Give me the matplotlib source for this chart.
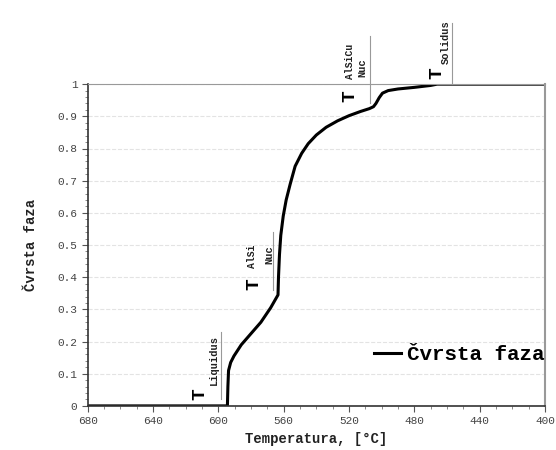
import matplotlib
matplotlib.use('Agg')
import matplotlib.pyplot as plt
from matplotlib.ticker import MultipleLocator

# krivulja očvršćavanja (očitano sa slike)
temp = [680, 594.5, 594.2, 593.8, 592.5, 590.5, 586, 580, 574, 568, 563.5,
        563.2, 562.6, 561.8, 560.3, 558.5, 556, 553, 549, 545, 540, 534,
        527, 520, 513, 507.5, 505, 503.5, 501.5, 499.5, 496, 490, 480,
        470, 466, 400]
frac = [0, 0, 0.06, 0.11, 0.135, 0.155, 0.19, 0.225, 0.26, 0.305, 0.345,
        0.40, 0.47, 0.53, 0.59, 0.64, 0.69, 0.745, 0.785, 0.815, 0.842, 0.866,
        0.886, 0.902, 0.915, 0.924, 0.93, 0.94, 0.958, 0.972, 0.98, 0.985, 0.99,
        0.996, 1.0, 1.0]

xticks = [680, 640, 600, 560, 520, 480, 440, 400]
yticks = [0, 0.1, 0.2, 0.3, 0.4, 0.5, 0.6, 0.7, 0.8, 0.9, 1]
ylabels = ['0', '0.1', '0.2', '0.3', '0.4', '0.5', '0.6', '0.7', '0.8', '0.9', '1']

mono = 'Liberation Mono'

fig = plt.figure(figsize=(5.56, 4.5), dpi=100)
ax = fig.add_axes([0.158, 0.098, 0.822, 0.715])

ax.plot(temp, frac, color='black', lw=2.2, label='Čvrsta faza')

ax.set_xlim(680, 400)
ax.set_ylim(0, 1)
ax.set_xticks(xticks)
ax.set_yticks(yticks)
ax.set_yticklabels(ylabels)
ax.xaxis.set_minor_locator(MultipleLocator(10))
ax.yaxis.set_minor_locator(MultipleLocator(0.02))
ax.tick_params(which='major', length=4, color='#555555', labelsize=8,
               labelcolor='#444444')
ax.tick_params(which='minor', length=2, color='#777777')
for lab in ax.get_xticklabels() + ax.get_yticklabels():
    lab.set_family(mono)

ax.grid(axis='y', color='#e3e3e3', lw=0.8, ls='--')
ax.set_axisbelow(True)

ax.spines['left'].set_color('#333333')
ax.spines['bottom'].set_color('#333333')
ax.spines['left'].set_linewidth(1.2)
ax.spines['bottom'].set_linewidth(1.2)
ax.spines['right'].set_color('#999999')
ax.spines['top'].set_color('#999999')
ax.spines['right'].set_linewidth(1.5)

ax.set_xlabel('Temperatura, [°C]', family=mono, fontweight='bold',
              fontsize=10, color='#222222', labelpad=4)
ax.set_ylabel('Čvrsta faza', family=mono, fontweight='bold',
              fontsize=10, color='#222222', labelpad=14)

leg = ax.legend(loc='center right', bbox_to_anchor=(1.04, 0.16), frameon=False,
                prop={'family': mono, 'weight': 'bold', 'size': 15},
                handlelength=1.3, handletextpad=0.3)


def marker(tx, ty, sup, sup_x, sup_y, sub, sub_x, sub_y, line_x, line_y0, line_y1):
    # veliko T, gornji i donji indeks, tanka linija uz donji indeks
    ax.text(tx, ty, 'T', rotation=90, family=mono, fontweight='bold',
            fontsize=14, ha='center', va='bottom', clip_on=False)
    if sup:
        ax.text(sup_x, sup_y, sup, rotation=90, family=mono, fontweight='bold',
                fontsize=7, ha='center', va='bottom', color='#222222',
                clip_on=False)
    ax.text(sub_x, sub_y, sub, rotation=90, family=mono, fontweight='bold',
            fontsize=7.5, ha='center', va='bottom', color='#222222',
            clip_on=False)
    ax.plot([line_x, line_x], [line_y0, line_y1], color='#999999', lw=0.8,
            clip_on=False)


marker(611.4, 0.018, None, 0, 0, 'Liquidus', 602.8, 0.065, 598.5, 0.02, 0.23)
marker(578.3, 0.361, 'AlSi', 579.5, 0.43, 'Nuc', 569, 0.44, 566.6, 0.361, 0.542)
marker(519.5, 0.944, 'AlSiCu', 519.2, 1.016, 'Nuc', 511.8, 1.022, 507.2, 0.94, 1.15)
marker(466, 1.016, None, 0, 0, 'Solidus', 460.6, 1.062, 457.2, 1.0, 1.19)

fig.savefig('out.png', dpi=100)
